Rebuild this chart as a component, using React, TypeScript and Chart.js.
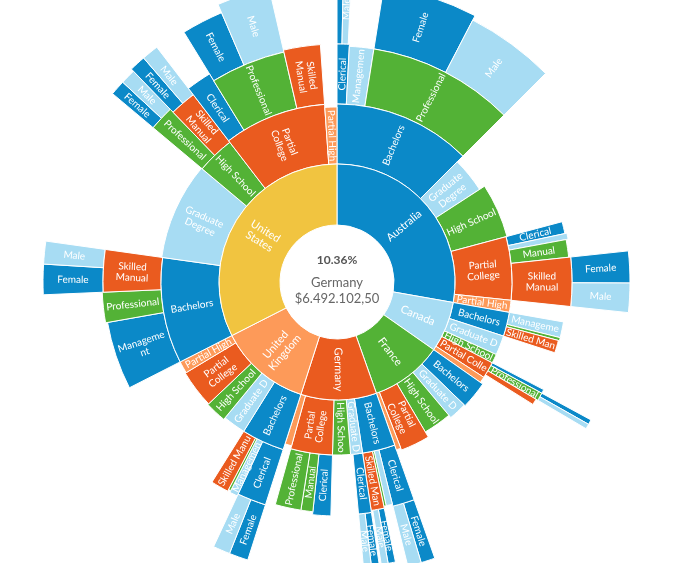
import React, { useEffect, useRef } from "react";
import { Chart, registerables } from "chart.js";

Chart.register(...registerables);

// ---------------- data ----------------
// Level 1: countries (relative sales share, full circle = 360)
const countries = ["Australia", "Canada", "France", "Germany", "United Kingdom", "United States"];
const countrySales = [100, 25, 35.5, 37.3, 45.2, 117];
const countryDepth = [61, 61, 61, 61, 61, 61];

// Level 2: education (parent = country index)
const eduLabels = [
  "Bachelors", "Graduate Degree", "High School", "Partial College", "Partial High School",
  "Bachelors", "Graduate Degree", "High School", "Partial College", "Partial High School",
  "Bachelors", "Graduate Degree", "High School", "Partial College", "Partial High School",
  "Bachelors", "Graduate Degree", "High School", "Partial College", "Partial High School",
  "Bachelors", "Graduate Degree", "High School", "Partial College", "Partial High School",
  "Bachelors", "Graduate Degree", "High School", "Partial College", "Partial High School",
];
const eduParent = [0, 0, 0, 0, 0, 1, 1, 1, 1, 1, 2, 2, 2, 2, 2, 3, 3, 3, 3, 3, 4, 4, 4, 4, 4, 5, 5, 5, 5, 5];
const eduSales = [
  45, 12, 18, 21, 4,
  8, 6.5, 3, 5.5, 2,
  9, 6, 9.5, 9.5, 1.5,
  11, 4, 6, 14, 2.3,
  14.2, 7.5, 7, 12.5, 4,
  35, 32, 12.5, 33.5, 4,
];
const eduDepth = [
  60, 52, 58, 57, 57,
  57, 57, 57, 57, 57,
  60, 59, 56, 62, 60,
  55, 55, 55, 55, 52,
  58, 58, 60, 59, 58,
  58, 59, 58, 60, 57,
];

// Level 3: occupation (parent = education index)
const occLabels = [
  "Clerical", "Management", "Professional",
  "Clerical", "Management", "Manual", "Skilled Manual",
  "Management", "Professional", "Skilled Manual",
  "Clerical", "Professional", "Skilled Manual",
  "Clerical", "Management", "Manual", "Skilled Manual",
  "Clerical",
  "Clerical", "Manual", "Professional",
  "Clerical", "Management", "Manual", "Skilled Manual",
  "Management", "Professional", "Skilled Manual",
  "Professional", "Skilled Manual",
  "Clerical", "Professional", "Skilled Manual",
];
const occParent = [0, 0, 0, 3, 3, 3, 3, 5, 5, 5, 8, 8, 8, 15, 15, 15, 15, 16, 18, 18, 18, 20, 20, 20, 20, 25, 25, 25, 27, 27, 28, 28, 28];
const occSales = [
  3, 6, 36,
  3, 1.5, 4.4, 12.1,
  4, 0.8, 3.2,
  1, 2, 1.5,
  5.5, 1.6, 0.6, 3.3,
  3.2,
  4.5, 3, 6.5,
  7.2, 2, 0.6, 4.4,
  17, 7.5, 10.5,
  6, 6.5,
  6, 18.5, 9,
];
const occDepth = [
  60, 58, 58,
  58, 60, 58, 60,
  55, 55, 54,
  58, 58, 56,
  58, 56, 56, 58,
  60,
  61, 58, 58,
  58, 60, 58, 60,
  57, 59, 58,
  64, 60,
  66, 58, 60,
];

// Level 4: gender (parent = occupation index)
const genderLabels = [
  "Female", "Male", "Female", "Male", "Female", "Male", "Female", "Male",
  "Female", "Male", "Female", "Male", "Female", "Male", "Female", "Male",
  "Female", "Male", "Female", "Male", "Female", "Male", "Female", "Male",
];
const genderParent = [0, 0, 2, 2, 6, 6, 11, 11, 13, 13, 16, 16, 17, 17, 21, 21, 27, 27, 28, 28, 29, 29, 31, 31];
const genderSales = [1.2, 1.5, 18.4, 17.6, 6.3, 5.8, 1, 1, 2.8, 2.7, 1.5, 1.4, 1.6, 1.6, 3.8, 3.4, 6, 4.5, 3, 3, 3.2, 3.3, 8.3, 10.2];
const genderDepth = [70, 70, 64, 59, 58, 58, 56, 56, 62, 62, 55, 55, 55, 55, 58, 58, 60, 60, 53, 53, 60, 60, 57, 66];

const centerShare = "10.36%";
const centerName = "Germany";
const centerAmount = "$6.492.102,50";

// ---------------- styles ----------------
const PALETTE = ["#0b89c8", "#a7dcf3", "#53b236", "#ea5b1f", "#fd9a59", "#f1c440"];
const EDU_COLOR: Record<string, number> = {
  "Bachelors": 0, "Graduate Degree": 1, "High School": 2, "Partial College": 3, "Partial High School": 4,
};
const OCC_COLOR: Record<string, number> = {
  "Clerical": 0, "Management": 1, "Manual": 2, "Professional": 2, "Skilled Manual": 3,
};
const OCC_COLOR_OVERRIDE: Record<number, number> = { 25: 0 };
const GENDER_COLOR: Record<string, number> = { Female: 0, Male: 1 };
const HOLE = 57;
const FONT = "Lato, 'Open Sans', sans-serif";

type Slot = {
  label: string; value: number; color: string; depth: number;
  gap: boolean; parentSlot: number; node: number; inner: number; outer: number;
};

function buildLevels(): Slot[][] {
  const levels: Slot[][] = [];
  levels.push(countries.map((c, i) => ({
    label: c, value: countrySales[i], color: PALETTE[i], depth: countryDepth[i],
    gap: false, parentSlot: -1, node: i, inner: 0, outer: 0,
  })));
  const defs = [
    { labels: eduLabels, parent: eduParent, values: eduSales, depth: eduDepth,
      color: (i: number) => PALETTE[EDU_COLOR[eduLabels[i]]] },
    { labels: occLabels, parent: occParent, values: occSales, depth: occDepth,
      color: (i: number) => PALETTE[OCC_COLOR_OVERRIDE[i] ?? OCC_COLOR[occLabels[i]]] },
    { labels: genderLabels, parent: genderParent, values: genderSales, depth: genderDepth,
      color: (i: number) => PALETTE[GENDER_COLOR[genderLabels[i]]] },
  ];
  for (const def of defs) {
    const prev = levels[levels.length - 1];
    const cur: Slot[] = [];
    prev.forEach((p, pi) => {
      const gapSlot = (v: number): Slot => ({
        label: "", value: v, color: "rgba(0,0,0,0)", depth: 0, gap: true,
        parentSlot: pi, node: -1, inner: 0, outer: 0,
      });
      if (p.gap) { cur.push(gapSlot(p.value)); return; }
      let used = 0;
      def.parent.forEach((par, i) => {
        if (par === p.node) {
          cur.push({
            label: def.labels[i], value: def.values[i], color: def.color(i), depth: def.depth[i],
            gap: false, parentSlot: pi, node: i, inner: 0, outer: 0,
          });
          used += def.values[i];
        }
      });
      const rest = p.value - used;
      if (rest > 1e-6) cur.push(gapSlot(rest));
    });
    levels.push(cur);
  }
  levels.forEach((lv, k) => lv.forEach((s) => {
    const inner = k === 0 ? HOLE : levels[k - 1][s.parentSlot].outer;
    s.inner = inner;
    s.outer = s.gap ? inner : inner + s.depth;
  }));
  return levels;
}

function wrapText(ctx: CanvasRenderingContext2D, text: string, avail: number): string[] {
  const words = text.split(" ");
  const lines: string[] = [];
  let cur = "";
  const pushWord = (w: string) => {
    let rest = w;
    while (ctx.measureText(rest).width > avail && rest.length > 1) {
      let n = rest.length - 1;
      while (n > 1 && ctx.measureText(rest.slice(0, n)).width > avail) n--;
      lines.push(rest.slice(0, n));
      rest = rest.slice(n);
    }
    return rest;
  };
  for (const w of words) {
    const trial = cur ? cur + " " + w : w;
    if (ctx.measureText(trial).width <= avail) { cur = trial; continue; }
    if (cur) lines.push(cur);
    cur = pushWord(w);
  }
  if (cur) lines.push(cur);
  return lines;
}

function truncate(ctx: CanvasRenderingContext2D, text: string, avail: number): string {
  let t = text;
  while (t.length > 1 && ctx.measureText(t).width > avail) t = t.slice(0, -1);
  return t.trimEnd();
}

export default function App() {
  const ref = useRef<HTMLCanvasElement | null>(null);

  useEffect(() => {
    if (!ref.current) return;
    const levels = buildLevels();

    const radiusPlugin = {
      id: "sunburstRadii",
      afterDatasetsUpdate(chart: any) {
        levels.forEach((lv, d) => {
          const meta = chart.getDatasetMeta(d);
          meta.data.forEach((arc: any, i: number) => {
            arc.innerRadius = lv[i].inner;
            arc.outerRadius = lv[i].outer;
          });
        });
      },
    };

    const labelPlugin = {
      id: "sunburstLabels",
      afterDatasetsDraw(chart: any) {
        const ctx: CanvasRenderingContext2D = chart.ctx;
        let cx = 0, cy = 0;
        levels.forEach((lv, d) => {
          const meta = chart.getDatasetMeta(d);
          meta.data.forEach((arc: any, i: number) => {
            const s = lv[i];
            cx = arc.x; cy = arc.y;
            if (s.gap || !s.label) return;
            const { x, y, startAngle, endAngle, innerRadius, outerRadius } = arc;
            const mid = (startAngle + endAngle) / 2;
            const rm = (innerRadius + outerRadius) / 2;
            const arcW = (endAngle - startAngle) * rm;
            if (arcW < 6) return;
            const fontPx = d === 0 ? 11 : 10;
            ctx.save();
            ctx.font = `${fontPx}px ${FONT}`;
            const avail = outerRadius - innerRadius - 3;
            const lineH = fontPx + 1;
            let lines = wrapText(ctx, s.label, avail);
            const maxLines = Math.max(1, Math.floor(arcW / lineH));
            if (lines.length > maxLines) {
              lines = maxLines === 1 ? [truncate(ctx, s.label, avail)] : lines.slice(0, maxLines);
            }
            ctx.translate(x + Math.cos(mid) * rm, y + Math.sin(mid) * rm);
            let rot = mid;
            if (Math.cos(mid) < -1e-6) rot += Math.PI;
            ctx.rotate(rot);
            ctx.textAlign = "center";
            ctx.textBaseline = "middle";
            ctx.fillStyle = "#ffffff";
            lines.forEach((ln, k) => ctx.fillText(ln, 0, (k - (lines.length - 1) / 2) * lineH));
            ctx.restore();
          });
        });
        // center text
        ctx.save();
        ctx.textAlign = "center";
        ctx.textBaseline = "middle";
        ctx.fillStyle = "#555555";
        ctx.font = `bold 12px ${FONT}`;
        ctx.fillText(centerShare, cx, cy - 22);
        ctx.fillStyle = "#666666";
        ctx.font = `13px ${FONT}`;
        ctx.fillText(centerName, cx, cy + 1);
        ctx.font = `13px ${FONT}`;
        ctx.fillText(centerAmount, cx, cy + 17);
        ctx.restore();
      },
    };

    const chart = new Chart(ref.current, {
      type: "doughnut",
      data: {
        labels: levels[0].map((s) => s.label),
        datasets: levels.map((lv) => ({
          data: lv.map((s) => s.value),
          labels: lv.map((s) => s.label),
          backgroundColor: lv.map((s) => s.color),
          borderColor: lv.map((s) => (s.gap ? "rgba(0,0,0,0)" : "#ffffff")),
          borderWidth: lv.map((s) => (s.gap ? 0 : 1)),
          clip: false,
        })) as any,
      },
      options: {
        animation: false,
        responsive: false,
        events: [],
        rotation: 0,
        circumference: 360,
        cutout: 0,
        layout: { padding: { left: 0, right: 26, top: 1, bottom: 0 } },
        plugins: { legend: { display: false }, tooltip: { enabled: false } },
      } as any,
      plugins: [radiusPlugin, labelPlugin],
    });
    return () => chart.destroy();
  }, []);

  return (
    <div style={{ position: "absolute", left: 0, top: 0, width: 700, height: 563, background: "#fff" }}>
      <canvas ref={ref} width={700} height={563} style={{ display: "block", width: 700, height: 563 }} />
    </div>
  );
}
